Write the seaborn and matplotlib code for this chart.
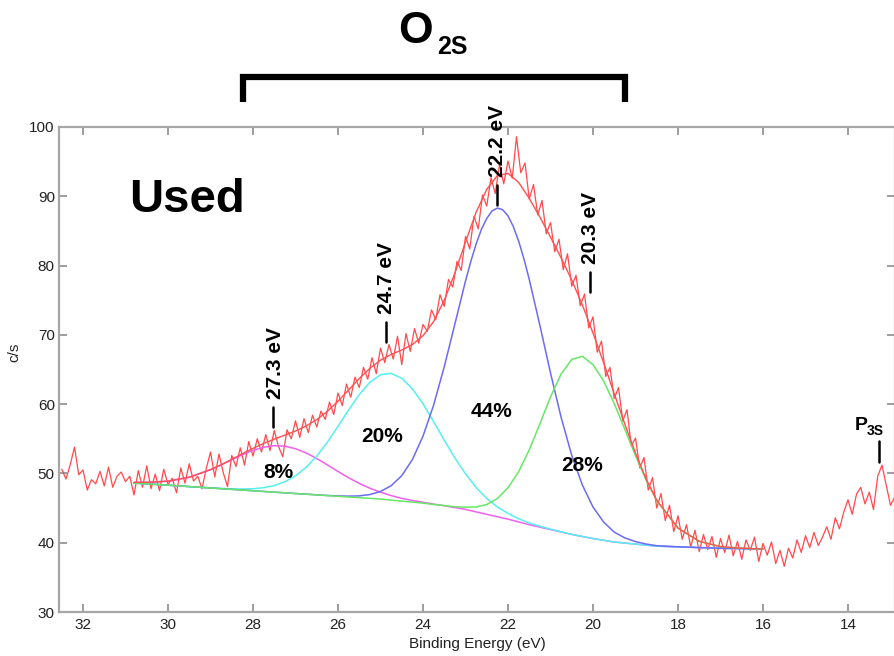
import numpy as np
import matplotlib
matplotlib.use("Agg")
import matplotlib.pyplot as plt
import seaborn as sns
from matplotlib.lines import Line2D

# ---------------- data ----------------
# measured spectrum, binding energy 32.5 -> 12.9 eV in 0.1 eV steps
energy = np.round(np.arange(32.5, 12.85, -0.1), 2)
counts = [
    50.6, 49.2, 51.3, 53.8, 49.8, 50.5, 47.6, 49.1, 48.5, 50.3,
    48.2, 50.9, 48.0, 49.6, 50.2, 48.8, 49.6, 46.9, 50.4, 48.0,
    51.1, 47.8, 49.9, 47.5, 50.6, 48.4, 49.3, 47.2, 50.8, 48.6,
    51.4, 48.9, 49.6, 47.8, 50.7, 53.1, 49.5, 52.8, 50.1, 48.1,
    52.6, 51.0, 53.7, 51.2, 54.6, 52.5, 55.0, 53.1, 55.6, 53.3,
    56.2, 53.9, 52.4, 56.3, 55.0, 57.6, 55.2, 57.9, 55.9, 58.4,
    56.7, 59.0, 57.8, 60.3, 58.5, 61.6, 59.8, 62.9, 61.0, 63.9,
    62.4, 65.3, 63.6, 66.7, 64.4, 68.1, 66.0, 68.6, 66.5, 69.8,
    65.7, 70.2, 67.6, 70.9, 68.8, 71.5, 70.5, 73.6, 72.2, 75.8,
    74.1, 78.0, 76.9, 80.6, 79.3, 84.2, 82.4, 87.1, 85.3, 90.2,
    88.6, 92.7, 90.4, 94.6, 91.8, 95.1, 92.6, 98.6, 93.4, 94.8,
    89.6, 91.7, 87.3, 89.4, 84.6, 86.2, 82.0, 83.8, 79.4, 81.7,
    77.0, 78.6, 74.2, 75.9, 71.0, 72.6, 67.5, 69.1, 64.0, 65.3,
    60.8, 62.4, 57.6, 59.2, 54.0, 55.1, 50.8, 52.3, 47.6, 49.4,
    45.0, 47.1, 43.2, 45.4, 41.6, 43.9, 40.5, 42.6, 39.4, 41.8,
    38.7, 41.2, 39.0, 40.9, 37.9, 40.6, 38.6, 41.1, 38.1, 40.2,
    37.6, 40.4, 38.9, 40.8, 37.3, 39.9, 38.2, 40.1, 37.0, 38.9,
    36.6, 39.2, 37.8, 40.4, 38.6, 41.0, 39.3, 41.5, 39.6, 40.8,
    42.3, 40.5, 43.6, 42.0, 44.4, 46.2, 44.1, 47.0, 48.0, 45.6,
    47.3, 44.8, 49.6, 51.2, 48.3, 45.4, 46.6,
]

# fitted components (each drawn on top of its background)
fit_energy = [30.8, 30.5, 30.0, 29.5,
              29.0, 28.75, 28.5, 28.25, 28.0, 27.75, 27.5, 27.25, 27.0, 26.75,
              26.5, 26.25, 26.0, 25.75, 25.5, 25.25, 25.0, 24.75, 24.5, 24.25,
              24.0, 23.75, 23.5, 23.25, 23.0, 22.75, 22.5, 22.25, 22.0, 21.75,
              21.5, 21.25, 21.0, 20.75, 20.5, 20.25, 20.0, 19.75, 19.5, 19.25,
              19.0, 18.75, 18.5,
              18.0, 17.5, 17.0, 16.5, 16.0]
comp_273 = [48.71, 48.72, 48.88, 49.45,
            50.53, 51.22, 51.97, 52.70, 53.33, 53.79, 54.00, 53.93, 53.57, 52.96,
            52.15, 51.23, 50.28, 49.37, 48.56, 47.86, 47.29, 46.80, 46.40, 46.09,
            45.84, 45.57, 45.34, 45.07, 44.81, 44.45, 44.10, 43.75, 43.40, 43.00,
            42.60, 42.25, 41.90, 41.55, 41.20, 40.90, 40.60, 40.35, 40.10, 39.95,
            39.80, 39.65, 39.50,
            39.40, 39.30, 39.20, 39.15, 39.10]
comp_247 = [48.60, 48.50, 48.30, 48.10,
            47.92, 47.83, 47.77, 47.75, 47.79, 47.94, 48.25, 48.80, 49.65, 50.88,
            52.50, 54.51, 56.79, 59.16, 61.38, 63.15, 64.25, 64.45, 63.73, 62.21,
            60.05, 57.47, 54.80, 52.22, 49.95, 47.97, 46.38, 45.16, 44.23, 43.46,
            42.85, 42.38, 41.96, 41.58, 41.21, 40.90, 40.60, 40.35, 40.10, 39.95,
            39.80, 39.65, 39.50,
            39.40, 39.30, 39.20, 39.15, 39.10]
# 22.2 eV component sampled more finely around its top
blue_energy = [30.8, 30.5, 30.0, 29.5,
               29.0, 28.75, 28.5, 28.25, 28.0, 27.75, 27.5, 27.25, 27.0, 26.75,
               26.5, 26.25, 26.0, 25.75, 25.5, 25.25, 25.0, 24.75, 24.5, 24.25,
               24.0, 23.75, 23.5, 23.25, 23.0, 22.875, 22.75, 22.625, 22.5,
               22.375, 22.25, 22.125, 22.0, 21.875, 21.75, 21.625,
               21.5, 21.25, 21.0, 20.75, 20.5, 20.25, 20.0, 19.75, 19.5, 19.25,
               19.0, 18.75, 18.5,
               18.0, 17.5, 17.0, 16.5, 16.0]
comp_222 = [48.60, 48.50, 48.30, 48.10,
            47.90, 47.80, 47.70, 47.60, 47.50, 47.40, 47.30, 47.20, 47.10, 47.01,
            46.91, 46.82, 46.75, 46.72, 46.76, 46.95, 47.40, 48.22, 49.68, 51.99,
            55.38, 59.86, 65.40, 71.57, 77.77, 80.60, 83.11, 85.24, 86.80,
            87.89, 88.30, 88.06, 87.17, 85.63, 83.54, 80.96,
            78.00, 71.38, 64.50, 58.09, 52.60, 48.32, 45.15, 42.98, 41.53, 40.69,
            40.16, 39.81, 39.57,
            39.41, 39.30, 39.20, 39.15, 39.10]
comp_203 = [48.60, 48.50, 48.30, 48.10,
            47.90, 47.80, 47.70, 47.60, 47.50, 47.40, 47.30, 47.20, 47.10, 47.00,
            46.90, 46.80, 46.70, 46.60, 46.50, 46.40, 46.30, 46.15, 46.00, 45.86,
            45.71, 45.52, 45.36, 45.19, 45.13, 45.16, 45.52, 46.38, 47.93, 50.25,
            53.40, 57.15, 61.04, 64.35, 66.46, 66.90, 65.70, 63.35, 60.07, 56.35,
            52.56, 49.04, 46.06,
            42.11, 40.20, 39.44, 39.20, 39.10]
envelope = [48.71, 48.72, 48.88, 49.45,
            50.55, 51.25, 52.04, 52.85, 53.62, 54.33, 54.95, 55.53, 56.12, 56.85,
            57.76, 58.96, 60.42, 62.05, 63.70, 65.16, 66.34, 67.17, 67.81, 68.60,
            69.88, 71.92, 75.00, 78.90, 83.40, 87.70, 91.00, 93.00, 93.30, 92.00,
            89.70, 87.00, 84.10, 81.10, 77.90, 74.32, 70.25, 65.98, 61.50, 57.09,
            52.92, 49.20, 46.13,
            42.12, 40.20, 39.44, 39.20, 39.10]

peak_labels = ["27.3 eV", "24.7 eV", "22.2 eV", "20.3 eV"]
pct_labels = ["8%", "20%", "44%", "28%"]
x_ticks = [32, 30, 28, 26, 24, 22, 20, 18, 16, 14]
y_ticks = [30, 40, 50, 60, 70, 80, 90, 100]

# ---------------- style ----------------
sns.set_theme(style="ticks")
plt.rcParams["font.family"] = ["Liberation Sans", "DejaVu Sans"]

W, H = 894, 656
fig = plt.figure(figsize=(W / 100, H / 100), dpi=100)
ax = fig.add_axes([59 / W, 44 / H, 836 / W, 485 / H])

sns.lineplot(x=energy, y=counts, ax=ax, color="#ff4a4a", linewidth=0.9,
             estimator=None, sort=False, legend=False)
comp_series = [(fit_energy, comp_273, "#f060f0"),
               (fit_energy, comp_247, "#55f0f0"),
               (blue_energy, comp_222, "#6b6bf5"),
               (fit_energy, comp_203, "#66e866")]
for xs, comp, col in comp_series:
    sns.lineplot(x=xs, y=comp, ax=ax, color=col, linewidth=1.1,
                 estimator=None, sort=False, legend=False)
sns.lineplot(x=fit_energy, y=envelope, ax=ax, color="#ff5050", linewidth=1.0,
             estimator=None, sort=False, legend=False)

ax.set_xlim(32.565, 12.894)
ax.set_ylim(30, 100)
ax.set_xticks(x_ticks)
ax.set_yticks(y_ticks)
for s in ax.spines.values():
    s.set_color("#a6a6a6")
    s.set_linewidth(1.6)
ax.tick_params(direction="in", length=6, width=1.2, color="#8c8c8c",
               top=True, right=True, labelsize=11, labelcolor="#222222")
ax.tick_params(axis="x", pad=4)
ax.tick_params(axis="y", pad=3)
ax.set_xlabel("Binding Energy (eV)", fontsize=11, color="#222222", labelpad=4)
ax.set_ylabel("c/s", fontsize=11, color="#222222")
ax.yaxis.set_label_coords(-0.0455, 0.536)

# ---------------- annotations ----------------
bold = dict(fontweight="bold", color="black")
rot_pos = [(27.48, 65.9), (24.86, 78.2), (22.24, 98.0), (20.07, 85.4)]
for lab, (xx, yy) in zip(peak_labels, rot_pos):
    ax.text(xx, yy, lab, rotation=90, ha="center", va="center",
            fontsize=15, clip_on=False, **bold)
mark_pos = [(27.53, 56.7, 59.6), (24.86, 69.0, 71.8),
            (22.26, 88.7, 91.6), (20.07, 76.2, 79.1), (13.27, 51.6, 54.7)]
for xx, y0, y1 in mark_pos:
    ax.add_line(Line2D([xx, xx], [y0, y1], color="black", lw=1.8,
                       clip_on=False))
pct_pos = [(27.41, 50.2), (24.97, 55.4), (22.40, 59.0), (20.25, 51.1)]
for lab, (xx, yy) in zip(pct_labels, pct_pos):
    ax.text(xx, yy, lab, ha="center", va="center", fontsize=15, **bold)

fig.text(129 / W, 1 - 212 / H, "Used", fontsize=34, ha="left",
         va="baseline", **bold)
fig.text(398 / W, 1 - 43 / H, "O", fontsize=32, ha="left",
         va="baseline", **bold)
fig.text(437 / W, 1 - 54 / H, "2S", fontsize=18, ha="left",
         va="baseline", **bold)
fig.text(855 / W, 1 - 430 / H, "P", fontsize=14, ha="left",
         va="baseline", **bold)
fig.text(867 / W, 1 - 435 / H, "3S", fontsize=10, ha="left",
         va="baseline", **bold)

# bracket over the O2S region
bt = ax.get_xaxis_transform()
ax.add_line(Line2D([28.24, 28.24, 19.25, 19.25],
                   [1.0515, 1.103, 1.103, 1.0515], transform=bt,
                   color="black", lw=4.5, clip_on=False,
                   solid_joinstyle="miter", solid_capstyle="butt"))

fig.savefig("out.png", dpi=100)
